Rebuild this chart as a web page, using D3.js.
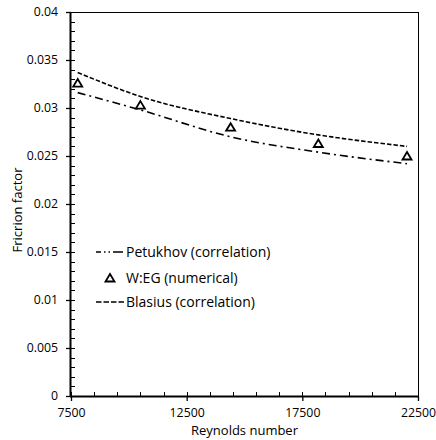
<!DOCTYPE html>
<html><head><meta charset="utf-8">
<script src="https://cdn.jsdelivr.net/npm/d3@7"></script>
<style>body{margin:0;background:#fff}svg{display:block}text{font-family:"Open Sans",sans-serif;fill:#000}</style>
</head><body><svg id="c" width="436" height="440"></svg>
<script>
const reynolds = [7790, 10500, 14400, 18190, 22025];
const wegNumerical = [0.0326, 0.0303, 0.0280, 0.0263, 0.0250];
const blasius = [0.0337, 0.0312, 0.0289, 0.0272, 0.0260];
const petukhov = [0.0316, 0.0298, 0.0270, 0.0254, 0.0242];
const xTicks = [7500, 12500, 17500, 22500];
const yTicks = [0, 0.005, 0.01, 0.015, 0.02, 0.025, 0.03, 0.035, 0.04];
const seriesNames = ["Petukhov (correlation)", "W:EG (numerical)", "Blasius (correlation)"];

const svg = d3.select("#c");
const L = 71, R = 418, T = 12, B = 396;
const x = d3.scaleLinear().domain([7500, 22500]).range([L, R]);
const y = d3.scaleLinear().domain([0, 0.04]).range([B, T]);

// plot border (top/right)
svg.append("line").attr("x1", L).attr("x2", R).attr("y1", T + 0.5).attr("y2", T + 0.5).attr("stroke", "#000").attr("stroke-width", 1);
svg.append("line").attr("x1", R + 0.5).attr("x2", R + 0.5).attr("y1", T).attr("y2", B).attr("stroke", "#000").attr("stroke-width", 1);

// minor ticks inside
const xMinor = d3.range(7500, 22501, 1000);
const yMinor = d3.range(0, 0.04001, 0.001);
svg.append("g").selectAll("line").data(xMinor).join("line")
  .attr("x1", d => Math.round(x(d)) + 0.5).attr("x2", d => Math.round(x(d)) + 0.5)
  .attr("y1", B).attr("y2", B - 4).attr("stroke", "#000").attr("stroke-width", 1);
svg.append("g").selectAll("line").data(yMinor).join("line")
  .attr("y1", d => Math.round(y(d)) + 0.5).attr("y2", d => Math.round(y(d)) + 0.5)
  .attr("x1", L).attr("x2", L + 4).attr("stroke", "#000").attr("stroke-width", 1);

// axes
const xAxis = d3.axisBottom(x).tickValues(xTicks).tickSize(5).tickPadding(7).tickFormat(d3.format("d"));
const gx = svg.append("g").attr("transform", `translate(0,${B})`).call(xAxis);
const yAxis = d3.axisLeft(y).tickValues(yTicks).tickSize(5).tickPadding(8).tickFormat(d => d === 0 ? "0" : String(+d.toFixed(3)));
const gy = svg.append("g").attr("transform", `translate(${L},0)`).call(yAxis);
[gx, gy].forEach(g => {
  g.select(".domain").attr("stroke", "#000").attr("stroke-width", 2);
  g.selectAll(".tick line").attr("stroke", "#000").attr("stroke-width", 1.3);
  g.selectAll("text").style("font-family", '"Open Sans",sans-serif').style("font-size", "12.3px").attr("fill", "#000");
});
gx.select(".domain").attr("d", `M${L - 1},0.5H${R}`);
gy.select(".domain").attr("d", `M-0.5,${B + 1}V${T}`);

// lines
const line = d3.line().x(d => x(d[0])).y(d => y(d[1])).curve(d3.curveMonotoneX);
svg.append("path").datum(reynolds.map((r, i) => [r, blasius[i]])).attr("d", line)
  .attr("fill", "none").attr("stroke", "#000").attr("stroke-width", 1.6).attr("stroke-dasharray", "4.5,2");
svg.append("path").datum(reynolds.map((r, i) => [r, petukhov[i]])).attr("d", line)
  .attr("fill", "none").attr("stroke", "#000").attr("stroke-width", 1.6).attr("stroke-dasharray", "8,4,2,4");

// triangles
const tri = (cx, cy) => `M${cx},${cy - 4}L${cx + 4.5},${cy + 3.5}L${cx - 4.5},${cy + 3.5}Z`;
svg.append("g").selectAll("path").data(reynolds.map((r, i) => [r, wegNumerical[i]])).join("path")
  .attr("d", d => tri(x(d[0]), y(d[1]))).attr("fill", "none").attr("stroke", "#000").attr("stroke-width", 1.8).attr("stroke-linejoin", "miter");

// legend
const lg = svg.append("g");
const ly = [252, 278, 302];
lg.append("line").attr("x1", 96).attr("x2", 124).attr("y1", ly[0]).attr("y2", ly[0]).attr("stroke", "#000").attr("stroke-width", 1.6).attr("stroke-dasharray", "5,3,1.5,3,1.5,3,10");
lg.append("path").attr("d", tri(110, ly[1])).attr("fill", "none").attr("stroke", "#000").attr("stroke-width", 1.8);
lg.append("line").attr("x1", 96).attr("x2", 124).attr("y1", ly[2]).attr("y2", ly[2]).attr("stroke", "#000").attr("stroke-width", 1.6).attr("stroke-dasharray", "5.5,2");
lg.selectAll("text").data(seriesNames).join("text")
  .attr("x", 126).attr("y", (d, i) => ly[i]).attr("dy", "0.35em").style("font-size", "14px").text(d => d);

// axis titles
svg.append("text").attr("x", (L + R) / 2).attr("y", 435).attr("text-anchor", "middle").style("font-size", "13px").text("Reynolds number");
svg.append("text").attr("transform", `translate(22,210) rotate(-90)`).attr("text-anchor", "middle").style("font-size", "13px").text("Fricrion factor");
</script></body></html>
